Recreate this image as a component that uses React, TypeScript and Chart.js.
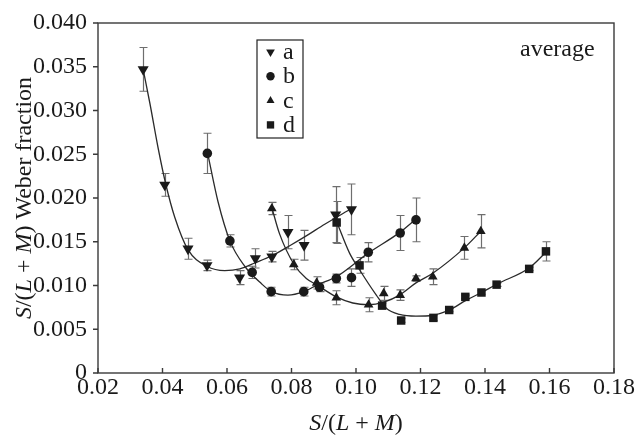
import React, { useEffect, useRef } from 'react';
import { Chart, registerables } from 'chart.js';

Chart.register(...registerables);

// ---- data ----
const seriesNames = ['a', 'b', 'c', 'd'];

const xA = [0.034, 0.0407, 0.0479, 0.0538, 0.0639, 0.0688, 0.0739, 0.0789, 0.0839, 0.0937, 0.0986];
const yA = [0.0347, 0.0215, 0.0142, 0.0123, 0.0109, 0.0131, 0.0133, 0.0161, 0.0146, 0.0181, 0.0187];
const eA = [0.0025, 0.0013, 0.0012, 0.0006, 0.0008, 0.0011, 0.0006, 0.0019, 0.0017, 0.0032, 0.0029];

const xB = [0.0539, 0.0609, 0.0678, 0.0737, 0.0838, 0.0887, 0.0939, 0.0986, 0.1038, 0.1137, 0.1186];
const yB = [0.0251, 0.0151, 0.0115, 0.0093, 0.0093, 0.0098, 0.0108, 0.0109, 0.0138, 0.016, 0.0175];
const eB = [0.0023, 0.0007, 0.0007, 0.0005, 0.0005, 0.0005, 0.0005, 0.001, 0.0011, 0.002, 0.0025];

const xC = [0.0739, 0.0807, 0.0878, 0.0939, 0.1039, 0.1086, 0.1137, 0.1186, 0.1238, 0.1336, 0.1387];
const yC = [0.0188, 0.0124, 0.0103, 0.0086, 0.0078, 0.0091, 0.0089, 0.0108, 0.011, 0.0143, 0.0162];
const eC = [0.0007, 0.0006, 0.0007, 0.0008, 0.0008, 0.0008, 0.0006, 0.0003, 0.0009, 0.0013, 0.0019];

const xD = [0.094, 0.1011, 0.1081, 0.114, 0.124, 0.1289, 0.1339, 0.1389, 0.1436, 0.1537, 0.1589];
const yD = [0.0172, 0.0123, 0.0077, 0.006, 0.0063, 0.0072, 0.0087, 0.0092, 0.0101, 0.0119, 0.0139];
const eD = [0.0024, 0.0009, 0.0003, 0.0002, 0.0003, 0.0002, 0.0002, 0.0002, 0.0002, 0.0002, 0.0011];

// fitted curves
const fitAx = [0.034, 0.0361, 0.0387, 0.041, 0.0438, 0.0479, 0.0538, 0.0593, 0.064, 0.0688, 0.0739, 0.0797, 0.0847, 0.0903, 0.0986];
const fitAy = [0.0347, 0.0308, 0.0256, 0.0216, 0.0178, 0.0141, 0.0122, 0.0117, 0.0119, 0.0126, 0.0134, 0.0146, 0.0157, 0.017, 0.0188];

const fitBx = [0.054, 0.0572, 0.0609, 0.0655, 0.0707, 0.0738, 0.0789, 0.0838, 0.0882, 0.0939, 0.1038, 0.1137, 0.1186];
const fitBy = [0.0251, 0.0196, 0.0151, 0.0122, 0.0102, 0.0093, 0.0089, 0.0093, 0.0101, 0.011, 0.0137, 0.0161, 0.0176];

const fitCx = [0.0739, 0.0763, 0.0808, 0.0846, 0.0877, 0.0939, 0.099, 0.1039, 0.1086, 0.1135, 0.1186, 0.1238, 0.1336, 0.1387];
const fitCy = [0.0189, 0.0159, 0.0124, 0.0108, 0.0101, 0.0087, 0.008, 0.0078, 0.0081, 0.0089, 0.0103, 0.0114, 0.0143, 0.0162];

const fitDx = [0.0941, 0.098, 0.1011, 0.1063, 0.1094, 0.1135, 0.1186, 0.1238, 0.1289, 0.1341, 0.1389, 0.1439, 0.1537, 0.1589];
const fitDy = [0.0172, 0.0137, 0.0118, 0.0089, 0.0074, 0.0067, 0.0065, 0.0066, 0.0072, 0.0083, 0.0092, 0.0102, 0.012, 0.0138];

const xTicks = [0.02, 0.04, 0.06, 0.08, 0.1, 0.12, 0.14, 0.16, 0.18];
const yTicks = [0, 0.005, 0.01, 0.015, 0.02, 0.025, 0.03, 0.035, 0.04];
const xTickLabels = ['0.02', '0.04', '0.06', '0.08', '0.10', '0.12', '0.14', '0.16', '0.18'];
const yTickLabels = ['0', '0.005', '0.010', '0.015', '0.020', '0.025', '0.030', '0.035', '0.040'];

const annotation = 'average';
const yTitleParts: [string, boolean][] = [['S', true], ['/(', false], ['L', true], [' + ', false], ['M', true], [') Weber fraction', false]];
const xTitleParts: [string, boolean][] = [['S', true], ['/(', false], ['L', true], [' + ', false], ['M', true], [')', false]];

// ---- styling ----
const FAMILY = '"Liberation Serif", "Times New Roman", Times, serif';
const INK = '#1a1a1a';
const FRAME = '#3a3a3a';
const ERR = '#6e6e6e';

const pts = (xs: number[], ys: number[]) => xs.map((x, i) => ({ x, y: ys[i] }));

const seriesX = [xA, xB, xC, xD];
const seriesY = [yA, yB, yC, yD];
const seriesE = [eA, eB, eC, eD];
const seriesStyle = ['triangle', 'circle', 'triangle', 'rect'];
const seriesRot = [180, 0, 0, 0];
const seriesRadius = [6.4, 4.8, 5.6, 6];

function drawMarker(ctx: CanvasRenderingContext2D, kind: string, x: number, y: number, r: number) {
  ctx.beginPath();
  if (kind === 'down') {
    ctx.moveTo(x - r * 0.87, y - r * 0.5);
    ctx.lineTo(x + r * 0.87, y - r * 0.5);
    ctx.lineTo(x, y + r);
    ctx.closePath();
  } else if (kind === 'up') {
    ctx.moveTo(x - r * 0.87, y + r * 0.5);
    ctx.lineTo(x + r * 0.87, y + r * 0.5);
    ctx.lineTo(x, y - r);
    ctx.closePath();
  } else if (kind === 'circle') {
    ctx.arc(x, y, r, 0, Math.PI * 2);
  } else {
    const s = r * 0.707;
    ctx.rect(x - s, y - s, 2 * s, 2 * s);
  }
  ctx.fill();
}

function drawRich(ctx: CanvasRenderingContext2D, parts: [string, boolean][], size: number) {
  let total = 0;
  const widths = parts.map(([t, it]) => {
    ctx.font = `${it ? 'italic ' : ''}${size}px ${FAMILY}`;
    const w = ctx.measureText(t).width;
    total += w;
    return w;
  });
  let x = -total / 2;
  parts.forEach(([t, it], i) => {
    ctx.font = `${it ? 'italic ' : ''}${size}px ${FAMILY}`;
    ctx.fillText(t, x, 0);
    x += widths[i];
  });
}

const decorPlugin = {
  id: 'decor',
  beforeDatasetsDraw(chart: any) {
    const { ctx } = chart;
    const xs = chart.scales.x;
    const ys = chart.scales.y;
    ctx.save();
    ctx.strokeStyle = ERR;
    ctx.lineWidth = 1.2;
    seriesX.forEach((xArr, s) => {
      xArr.forEach((xv, i) => {
        const px = Math.round(xs.getPixelForValue(xv)) + 0.5;
        const top = ys.getPixelForValue(seriesY[s][i] + seriesE[s][i]);
        const bot = ys.getPixelForValue(seriesY[s][i] - seriesE[s][i]);
        ctx.beginPath();
        ctx.moveTo(px, top);
        ctx.lineTo(px, bot);
        ctx.moveTo(px - 4, top);
        ctx.lineTo(px + 4, top);
        ctx.moveTo(px - 4, bot);
        ctx.lineTo(px + 4, bot);
        ctx.stroke();
      });
    });
    ctx.restore();
  },
  afterDraw(chart: any) {
    const { ctx, chartArea: a } = chart;
    const xs = chart.scales.x;
    const ys = chart.scales.y;
    ctx.save();
    ctx.strokeStyle = FRAME;
    ctx.lineWidth = 1.4;
    ctx.strokeRect(a.left, a.top, a.right - a.left, a.bottom - a.top);
    ctx.beginPath();
    yTicks.forEach((v) => {
      const py = ys.getPixelForValue(v);
      ctx.moveTo(a.left - 5, py);
      ctx.lineTo(a.left, py);
    });
    xTicks.forEach((v) => {
      const px = xs.getPixelForValue(v);
      ctx.moveTo(px, a.bottom);
      ctx.lineTo(px, a.bottom - 5);
    });
    ctx.stroke();

    ctx.fillStyle = INK;
    ctx.textBaseline = 'alphabetic';
    ctx.save();
    ctx.translate((a.left + a.right) / 2, a.bottom + 57);
    drawRich(ctx, xTitleParts, 24);
    ctx.restore();
    ctx.save();
    ctx.translate(31, (a.top + a.bottom) / 2);
    ctx.rotate(-Math.PI / 2);
    drawRich(ctx, yTitleParts, 24);
    ctx.restore();
    ctx.font = `24px ${FAMILY}`;
    ctx.textAlign = 'left';
    ctx.fillText(annotation, a.right - 94, a.top + 33);

    const lx = a.left + 159;
    const ly = a.top + 17;
    ctx.strokeStyle = '#222';
    ctx.lineWidth = 1.2;
    ctx.strokeRect(lx, ly, 46, 98);
    const kinds = ['down', 'circle', 'up', 'square'];
    const lr = [5, 4.2, 4.6, 5.2];
    seriesNames.forEach((n, i) => {
      const cy = ly + 12 + i * 24.3;
      ctx.fillStyle = INK;
      drawMarker(ctx, kinds[i], lx + 13.5, cy, lr[i]);
      ctx.font = `24px ${FAMILY}`;
      ctx.fillText(n, lx + 26, cy + 7);
    });
    ctx.restore();
  },
};

export default function App() {
  const ref = useRef<HTMLCanvasElement>(null);
  useEffect(() => {
    document.body.style.margin = '0';
    let chart: Chart | null = null;
    let cancelled = false;
    const build = () => {
      if (cancelled || !ref.current) return;
      const markerSets = seriesNames.map((n, s) => ({
        type: 'scatter' as const,
        label: n,
        data: pts(seriesX[s], seriesY[s]),
        pointStyle: seriesStyle[s],
        rotation: seriesRot[s],
        pointRadius: seriesRadius[s],
        pointBackgroundColor: INK,
        pointBorderColor: INK,
        pointBorderWidth: 0,
        showLine: false,
        order: 1,
      }));
      const fits = [
        pts(fitAx, fitAy),
        pts(fitBx, fitBy),
        pts(fitCx, fitCy),
        pts(fitDx, fitDy),
      ].map((d, i) => ({
        type: 'line' as const,
        label: 'fit ' + seriesNames[i],
        data: d,
        borderColor: '#2a2a2a',
        borderWidth: 1.3,
        pointRadius: 0,
        cubicInterpolationMode: 'monotone' as const,
        fill: false,
        order: 2,
      }));
      chart = new Chart(ref.current, {
        type: 'scatter',
        data: { datasets: [...markerSets, ...fits] as any },
        options: {
          responsive: false,
          animation: false,
          layout: { padding: { left: 0, top: 14, right: 23, bottom: 0 } },
          plugins: { legend: { display: false }, tooltip: { enabled: false } },
          scales: {
            x: {
              type: 'linear',
              min: 0.02,
              max: 0.18,
              afterFit: (s: any) => { s.height = 65; },
              afterBuildTicks: (s: any) => { s.ticks = xTicks.map((v) => ({ value: v })); },
              grid: { display: false, drawTicks: false },
              border: { display: false },
              ticks: {
                padding: 3,
                color: INK,
                font: { family: FAMILY, size: 24, lineHeight: 1 },
                maxRotation: 0,
                callback: (_v: any, i: number) => xTickLabels[i],
              },
            },
            y: {
              type: 'linear',
              min: 0,
              max: 0.04,
              afterFit: (s: any) => { s.width = 98; },
              afterBuildTicks: (s: any) => { s.ticks = yTicks.map((v) => ({ value: v })); },
              grid: { display: false, drawTicks: false },
              border: { display: false },
              ticks: {
                padding: 11,
                color: INK,
                font: { family: FAMILY, size: 24, lineHeight: 1 },
                callback: (_v: any, i: number) => yTickLabels[i],
              },
            },
          },
        },
        plugins: [decorPlugin],
      } as any);
    };
    const fonts: any = (document as any).fonts;
    if (fonts && fonts.load) {
      Promise.all([
        fonts.load('24px "Liberation Serif"'),
        fonts.load('italic 24px "Liberation Serif"'),
      ]).then(build, build);
    } else {
      build();
    }
    return () => {
      cancelled = true;
      if (chart) chart.destroy();
    };
  }, []);
  return (
    <div style={{ width: 638, height: 438 }}>
      <canvas ref={ref} width={638} height={438} style={{ display: 'block' }} />
    </div>
  );
}
